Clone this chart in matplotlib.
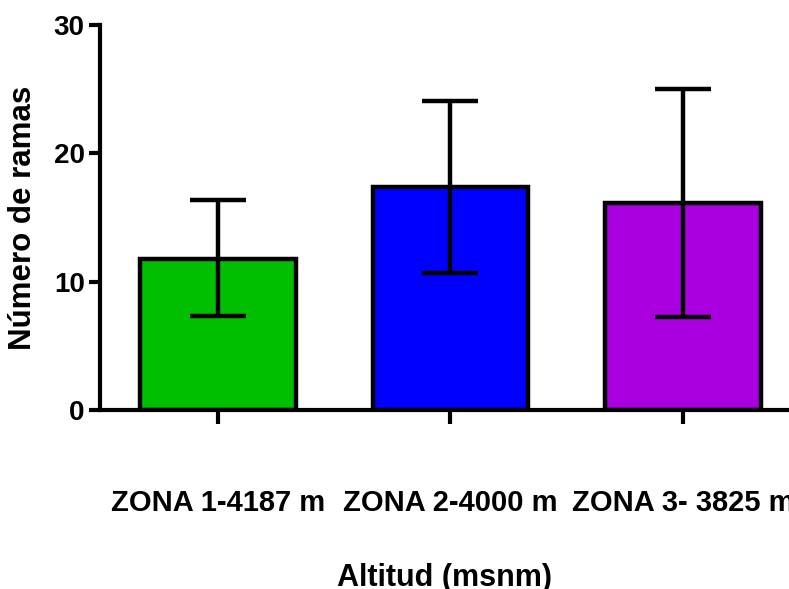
import numpy as np
import matplotlib.pyplot as plt

zonas = ["ZONA 1-4187 m", "ZONA 2-4000 m", "ZONA 3- 3825 m"]
medias = [11.8, 17.35, 16.1]
err_sup = [16.4, 24.05, 25.05]
err_inf = [7.3, 10.7, 7.25]
colores = ["#00BF00", "#0000FF", "#AA00E0"]

plt.rcParams["font.family"] = ["Liberation Sans", "DejaVu Sans"]
plt.rcParams["font.weight"] = "bold"

fig = plt.figure(figsize=(7.89, 5.89), dpi=100)
ax = fig.add_axes([100 / 789, 1 - 410 / 589, 1 - 100 / 789, 385 / 589])

x = np.arange(len(zonas))
medias = np.array(medias)
yerr = [medias - np.array(err_inf), np.array(err_sup) - medias]

ax.bar(x, medias, width=0.67, color=colores, edgecolor="black", linewidth=3.2, zorder=2)
ax.errorbar(x, medias, yerr=yerr, fmt="none", ecolor="black", elinewidth=3.2,
            capsize=20, capthick=3.2, zorder=3)

ax.set_xlim(-0.508, 2.457)
ax.set_ylim(0, 30)
ax.set_yticks([0, 10, 20, 30])
ax.set_xticks(x)
ax.set_xticklabels(zonas)

for s in ["top", "right"]:
    ax.spines[s].set_visible(False)
for s in ["left", "bottom"]:
    ax.spines[s].set_linewidth(3)

ax.tick_params(axis="y", length=8, width=3, labelsize=20, pad=3)
ax.tick_params(axis="x", length=10, width=3, labelsize=21, pad=47)

ax.set_ylabel("Número de ramas", fontsize=22.5, fontweight="bold", labelpad=11)
ax.set_xlabel("Altitud (msnm)", fontsize=22, fontweight="bold", labelpad=33)

fig.savefig("out.png", dpi=100)
